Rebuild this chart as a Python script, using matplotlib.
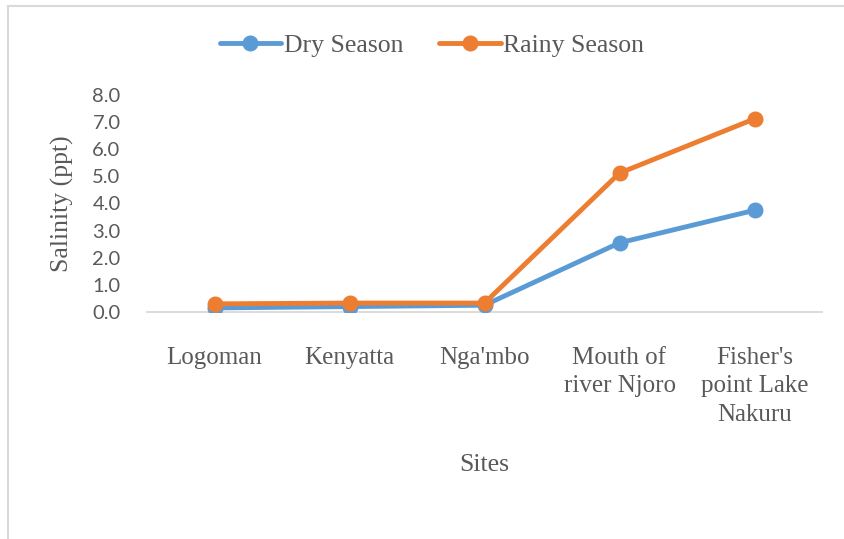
import matplotlib
matplotlib.use("Agg")
import matplotlib.pyplot as plt
from matplotlib.lines import Line2D

sites = ["Logoman", "Kenyatta", "Nga'mbo", "Mouth of\nriver Njoro", "Fisher's\npoint Lake\nNakuru"]
dry_season = [0.15, 0.2, 0.25, 2.55, 3.75]
rainy_season = [0.3, 0.33, 0.33, 5.12, 7.12]
y_ticks = [0, 1, 2, 3, 4, 5, 6, 7, 8]

W, H = 844, 539
fig = plt.figure(figsize=(W / 100, H / 100), dpi=100)
ax = fig.add_axes([147 / W, 1 - 312 / H, (822 - 147) / W, (312 - 95) / H])

serif = "Liberation Serif"
txt = "#595959"
blue = "#5B9BD5"
orange = "#ED7D31"

x = list(range(len(sites)))
ax.plot(x, dry_season, color=blue, lw=3.5, marker="o", ms=10.5, solid_capstyle="round",
        label="Dry Season", zorder=3)
ax.plot(x, rainy_season, color=orange, lw=3.5, marker="o", ms=10.5, solid_capstyle="round",
        label="Rainy Season", zorder=4)

ax.set_xlim(-0.5, len(sites) - 0.5)
ax.set_ylim(0, 8)
ax.set_yticks(y_ticks)
ax.set_yticklabels([f"{v:.1f}" for v in y_ticks], fontfamily="Lato", fontsize=14.5, color=txt)
ax.set_xticks(x)
ax.set_xticklabels(sites, fontfamily=serif, fontsize=18, color=txt, linespacing=1.38, va="top")
ax.tick_params(axis="both", length=0)
ax.tick_params(axis="y", pad=19)
ax.tick_params(axis="x", pad=25)

for s in ["top", "right", "left"]:
    ax.spines[s].set_visible(False)
ax.spines["bottom"].set_color("#D9D9D9")
ax.spines["bottom"].set_linewidth(1.3)

ax.set_ylabel("Salinity (ppt)", fontfamily=serif, fontsize=18.5, color=txt, labelpad=13)
fig.text(484 / W, 1 - 465 / H, "Sites", fontfamily=serif, fontsize=18.5, color=txt,
         ha="center", va="center")

leg = fig.legend(loc="center", bbox_to_anchor=(432 / W, 1 - 46 / H), ncol=2, frameon=False,
                 prop={"family": serif, "size": 18.5}, handlelength=2.4, handletextpad=0.1,
                 columnspacing=1.4, labelcolor=txt)

# chart border
fig.add_artist(Line2D([8 / W, 8 / W], [0, 1 - 6 / H], color="#D9D9D9", lw=1.5))
fig.add_artist(Line2D([8 / W, 1], [1 - 6 / H, 1 - 6 / H], color="#D9D9D9", lw=1.5))

fig.savefig("out.png", dpi=100)
